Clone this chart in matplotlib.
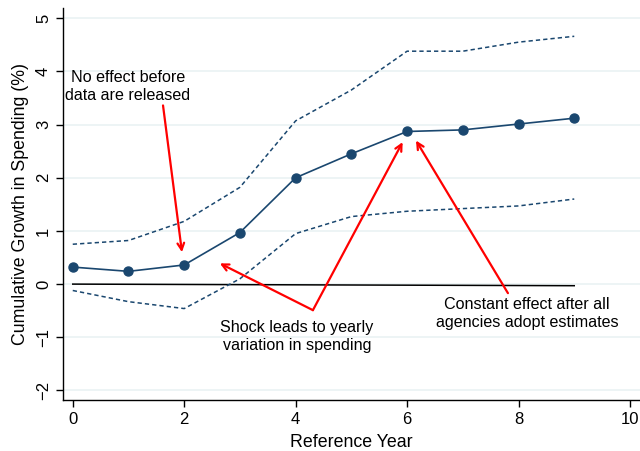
import matplotlib
matplotlib.use("Agg")
import matplotlib.pyplot as plt

# event-study estimates by reference year
years = [0, 1, 2, 3, 4, 5, 6, 7, 8, 9]
estimate = [0.32, 0.24, 0.36, 0.97, 2.00, 2.45, 2.87, 2.90, 3.01, 3.12]
upper_ci = [0.75, 0.82, 1.18, 1.82, 3.07, 3.65, 4.38, 4.38, 4.55, 4.66]
lower_ci = [-0.12, -0.33, -0.46, 0.10, 0.95, 1.27, 1.37, 1.42, 1.47, 1.60]

# reference line at zero
ref_x = [0, 9]
ref_y = [0.0, -0.03]

NAVY = "#1a476f"
RED = "#ff0000"

plt.rcParams["font.family"] = ["Liberation Sans", "DejaVu Sans"]

fig = plt.figure(figsize=(6.4, 4.51), dpi=100)
ax = fig.add_axes([0.098, 0.113, 0.902, 0.869])

ax.set_xlim(-0.18, 10.18)
ax.set_ylim(-2.18, 5.19)

for y in range(-2, 6):
    ax.axhline(y, color="#eaf2f3", linewidth=1.2, zorder=0)

ax.plot(ref_x, ref_y, color="black", linewidth=1.1, zorder=2)
ax.plot(years, upper_ci, color=NAVY, linewidth=1.1, dashes=(2.8, 2.0), zorder=3)
ax.plot(years, lower_ci, color=NAVY, linewidth=1.1, dashes=(2.8, 2.0), zorder=3)
ax.plot(years, estimate, color=NAVY, linewidth=1.2, marker="o",
        markersize=6.5, zorder=4)

arrow = dict(arrowstyle="->", color=RED, linewidth=1.6,
             mutation_scale=12, shrinkA=0, shrinkB=0)
fs = 11.6

ax.annotate("", xy=(1.96, 0.60), xytext=(1.62, 3.36), arrowprops=arrow)
ax.text(0.99, 3.72, "No effect before\ndata are released", ha="center",
        va="center", fontsize=fs, linespacing=1.25)

ax.annotate("", xy=(2.64, 0.39), xytext=(4.31, -0.49), arrowprops=arrow)
ax.annotate("", xy=(5.92, 2.67), xytext=(4.31, -0.49), arrowprops=arrow)
ax.text(4.02, -0.98, "Shock leads to yearly\nvariation in spending", ha="center",
        va="center", fontsize=fs, linespacing=1.25)

ax.annotate("", xy=(6.16, 2.70), xytext=(7.81, -0.17), arrowprops=arrow)
ax.text(8.15, -0.55, "Constant effect after all\nagencies adopt estimates",
        ha="center", va="center", fontsize=fs, linespacing=1.25)

ax.set_xticks([0, 2, 4, 6, 8, 10])
ax.set_yticks(range(-2, 6))
ax.tick_params(axis="both", labelsize=12, length=5, width=1, direction="out")
for lbl in ax.get_yticklabels():
    lbl.set_rotation(90)
    lbl.set_va("center")

ax.spines["top"].set_visible(False)
ax.spines["right"].set_visible(False)
ax.spines["left"].set_linewidth(1.0)
ax.spines["bottom"].set_linewidth(1.0)

ax.set_xlabel("Reference Year", fontsize=12.8, labelpad=5)
ax.set_ylabel("Cumulative Growth in Spending (%)", fontsize=12.8, labelpad=5)

fig.savefig("out.png", dpi=100)
